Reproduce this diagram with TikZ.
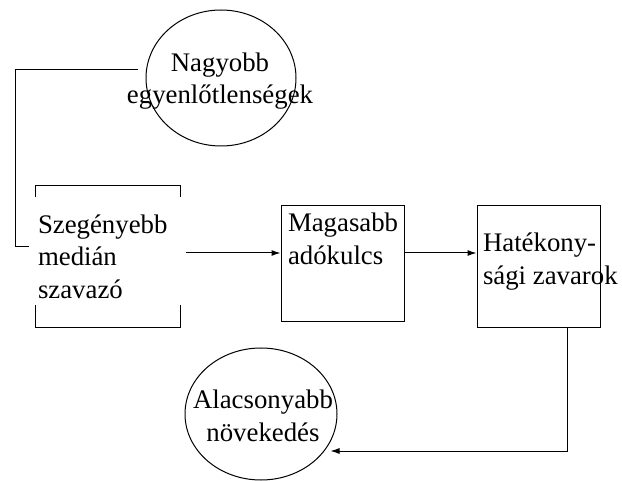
\documentclass[tikz,border=0pt]{standalone}
\usepackage{fontspec}
\setmainfont{Liberation Serif}
\usetikzlibrary{shapes.geometric,arrows.meta}

\newcommand{\betu}{\fontsize{26.8}{32.5}\selectfont}

\tikzstyle{oval}=[ellipse,draw,inner sep=0pt]
\tikzstyle{doboz}=[rectangle,draw,inner sep=0pt]
\tikzstyle{keret}=[rectangle,inner sep=0pt]
\tikzstyle{szoveg}=[align=left,inner sep=0pt,font=\betu]

\begin{document}
\begin{tikzpicture}[x=1pt,y=-1pt,>={Latex[length=9pt,width=6pt]},line width=1pt]
  \useasboundingbox (0,0) rectangle (622,481);
  % ellipszisek
  \node (nagy) [oval,minimum width=150pt,minimum height=136pt] at (221,78) {};
  \node (nagyszoveg) [szoveg,align=center] at (220,81) {Nagyobb\\egyenlőtlenségek};
  \node (alacs) [oval,minimum width=152pt,minimum height=132pt] at (261,414) {};
  \node (alacsszoveg) [szoveg,align=center] at (263,416) {Alacsonyabb\\növekedés};
  % dobozok
  \node (szeg) [keret,minimum width=144pt,minimum height=141pt] at (108,256.5) {};
  \draw (szeg.north west) ++(0,12) -- (szeg.north west) -- (szeg.north east) -- ++(0,12);
  \draw (szeg.south west) ++(0,-22) -- (szeg.south west) -- (szeg.south east) -- ++(0,-22);
  \node (szegszoveg) [szoveg,anchor=west] at ([xshift=2pt]szeg.west) {Szegényebb\\medián\\szavazó};
  \node (magas) [doboz,minimum width=123pt,minimum height=116pt] at (342.5,264) {};
  \node (magasszoveg) [szoveg,anchor=north west] at ([xshift=7pt,yshift=-7pt]magas.north west) {Magasabb\\adókulcs};
  \node (hatek) [doboz,minimum width=123pt,minimum height=122pt] at (538.5,267) {};
  \node (hatekszoveg) [szoveg,anchor=north west] at ([xshift=6pt,yshift=-27pt]hatek.north west) {Hatékony-\\sági zavarok};
  % kapcsolatok
  \draw ([xshift=-8pt,yshift=8pt]nagy.west) -| ([xshift=-20pt,yshift=9.5pt]szeg.west) -- ([xshift=-7pt,yshift=9.5pt]szeg.west);
  \draw[->] ([xshift=5pt,yshift=3.5pt]szeg.east) -- ([yshift=11pt]magas.west);
  \draw[->] ([yshift=11pt]magas.east) -- ([yshift=14pt]hatek.west);
  \draw[->] ([xshift=28.5pt]hatek.south) |- ([xshift=-7pt,yshift=-37pt]alacs.east);
\end{tikzpicture}
\end{document}
